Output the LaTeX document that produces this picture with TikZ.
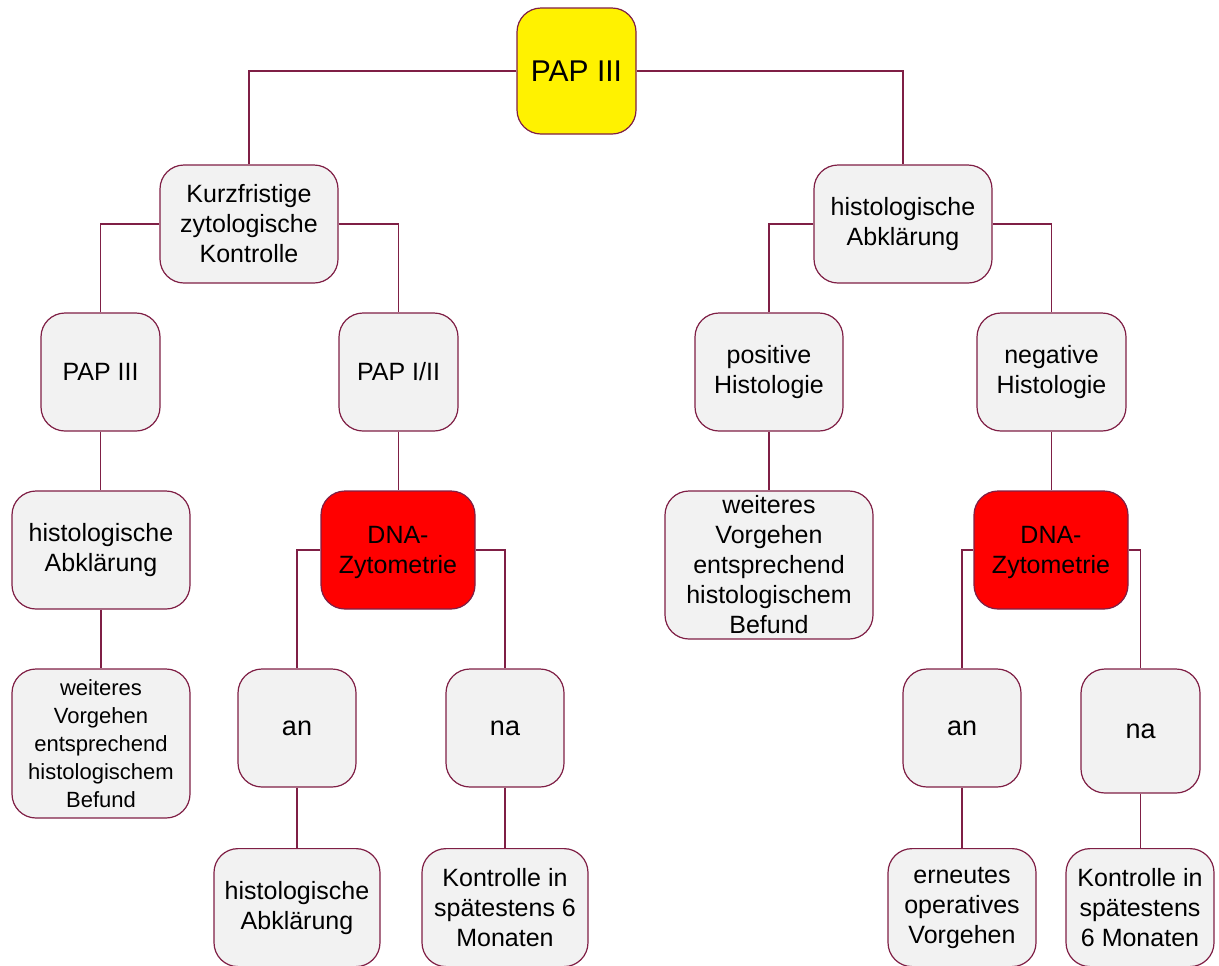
\documentclass[tikz,border=0pt]{standalone}
\usepackage{fontspec}
\setmainfont{Liberation Sans}
\usepackage{xcolor}
\usepackage{tikz}
\usetikzlibrary{positioning, calc}

\definecolor{boxgray}{HTML}{F2F2F2}
\definecolor{boxline}{HTML}{7F1F45}

\begin{document}
\begin{tikzpicture}[x=0.5pt, y=-0.5pt,
			box/.style={rectangle, draw=boxline, line width=0.6pt, fill=boxgray,
					align=center, rounded corners=12pt, inner sep=2pt,
					font=\fontsize{12.5}{15}\selectfont},
			rootbox/.style={box, fill=yellow, font=\fontsize{15}{17}\selectfont},
			dnabox/.style={box, fill=red, text depth=-3pt},
			line/.style={draw=boxline, line width=0.6pt}]

		\useasboundingbox (0,0) rectangle (1219,965);

		% Define nodes
		\node [rootbox, minimum width=59.5pt, minimum height=63pt] (root) at (576.5,71) {PAP III};

		\node [box, minimum width=89pt, minimum height=59pt] (kurz) at (249,224) {Kurzfristige\\zytologische\\Kontrolle};
		\node [box, minimum width=89pt, minimum height=59pt] (abkl) at (903,224) {histologische\\Abklärung};

		\node [box, minimum width=59.5pt, minimum height=59pt] (papiii) at (100.5,372) {PAP III};
		\node [box, minimum width=59.5pt, minimum height=59pt] (papii) at (398.5,372) {PAP I/II};
		\node [box, minimum width=74pt, minimum height=59pt] (pos) at (769,372) {positive\\Histologie};
		\node [box, minimum width=74.5pt, minimum height=59pt] (neg) at (1051.5,372) {negative\\Histologie};

		\node [box, minimum width=89pt, minimum height=59pt] (histl) at (101,550) {histologische\\Abklärung};
		\node [dnabox, minimum width=77pt, minimum height=59pt] (dnal) at (398,550) {DNA-\\Zytometrie};
		\node [box, minimum width=104pt, minimum height=74pt] (weiterm) at (769,565) {weiteres\\Vorgehen\\entsprechend\\histologischem\\Befund};
		\node [dnabox, minimum width=77pt, minimum height=59pt] (dnar) at (1051,550) {DNA-\\Zytometrie};

		\node [box, minimum width=89pt, minimum height=74.5pt, font=\fontsize{11}{14}\selectfont] (weiterl) at (101,743.5) {weiteres\\Vorgehen\\entsprechend\\histologischem\\Befund};
		\node [box, minimum width=59pt, minimum height=59pt, font=\fontsize{13.5}{15}\selectfont] (anl) at (297,728) {an};
		\node [box, minimum width=59pt, minimum height=59pt, font=\fontsize{13.5}{15}\selectfont] (nal) at (505,728) {na};
		\node [box, minimum width=59pt, minimum height=59pt, font=\fontsize{13.5}{15}\selectfont] (anr) at (962,728) {an};
		\node [box, minimum width=59.5pt, minimum height=62pt, font=\fontsize{13.5}{15}\selectfont] (nar) at (1140.5,731) {na};

		\node [box, anchor=north, minimum width=83pt, minimum height=59pt] (histb) at (297,848) {histologische\\Abklärung};
		\node [box, anchor=north, minimum width=83pt, minimum height=59pt] (kontl) at (505,848) {Kontrolle in\\spätestens 6\\Monaten};
		\node [box, anchor=north, minimum width=74pt, minimum height=59pt] (erneut) at (962,848) {erneutes\\operatives\\Vorgehen};
		\node [box, anchor=north, minimum width=74pt, minimum height=59pt] (kontr) at (1140,848) {Kontrolle in\\spätestens\\6 Monaten};

		% Draw connections
		\path [line] (root.west) -| (kurz.north);
		\path [line] (root.east) -| (abkl.north);
		\path [line] (kurz.west) -| (papiii.north);
		\path [line] (kurz.east) -| (papii.north);
		\path [line] (abkl.west) -| (pos.north);
		\path [line] (abkl.east) -| (neg.north);
		\path [line] (dnal.west) -| (anl.north);
		\path [line] (dnal.east) -| (nal.north);
		\path [line] (dnar.west) -| (anr.north);
		\path [line] (dnar.east) -| (nar.north);

		\foreach \a/\b in {papiii/histl, histl/weiterl, papii/dnal, pos/weiterm, neg/dnar, anl/histb, nal/kontl, anr/erneut, nar/kontr}
			\path [line] (\a.south) -- (\a.south |- \b.north);

	\end{tikzpicture}
\end{document}
